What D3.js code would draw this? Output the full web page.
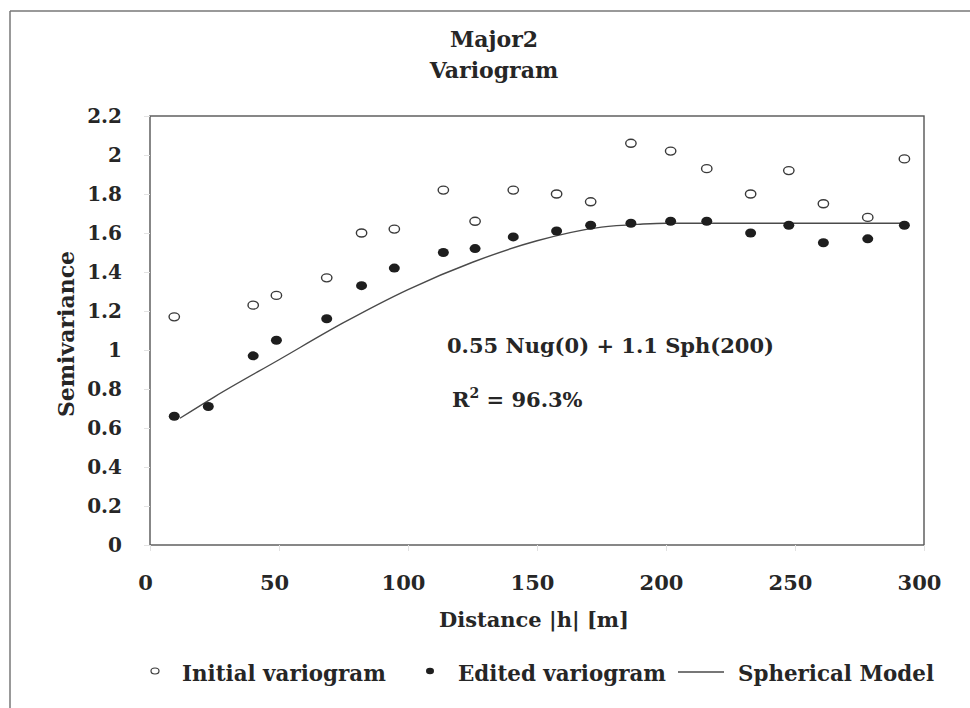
<!DOCTYPE html>
<html>
<head>
<meta charset="utf-8">
<script src="https://d3js.org/d3.v7.min.js"></script>
<style>
	body { margin: 0; background: #fff; }
</style>
</head>
<body>
<div id="chart"></div>
<script>
/*globals d3*/

// lag distance [m] and semivariance
const initialLag = [9.4, 40, 49, 68.5, 82, 94.7, 113.7, 126, 140.8, 157.6, 170.8, 186.4, 201.8, 215.8, 232.8, 247.6, 261, 278.2, 292.4];
const initialGamma = [1.17, 1.23, 1.28, 1.37, 1.60, 1.62, 1.82, 1.66, 1.82, 1.80, 1.76, 2.06, 2.02, 1.93, 1.80, 1.92, 1.75, 1.68, 1.98];
const editedLag = [9.4, 22.6, 40, 49, 68.5, 82, 94.7, 113.7, 126, 140.8, 157.6, 170.8, 186.4, 201.8, 215.8, 232.8, 247.6, 261, 278.2, 292.4];
const editedGamma = [0.66, 0.71, 0.97, 1.05, 1.16, 1.33, 1.42, 1.50, 1.52, 1.58, 1.61, 1.64, 1.65, 1.66, 1.66, 1.60, 1.64, 1.55, 1.57, 1.64];
const modelLag = [11.6, 25, 50, 75, 100, 125, 150, 175, 190, 200, 250, 294];
const modelGamma = [0.65, 0.76, 0.95, 1.14, 1.31, 1.45, 1.56, 1.63, 1.645, 1.65, 1.65, 1.65];
const xTicks = [0, 50, 100, 150, 200, 250, 300];
const yTicks = [0, 0.2, 0.4, 0.6, 0.8, 1, 1.2, 1.4, 1.6, 1.8, 2, 2.2];
const titleLines = ['Major2', 'Variogram'];
const legendNames = ['Initial variogram', 'Edited variogram', 'Spherical Model'];

var variogram = function() {
	'use strict';
	const width = 970;
	const height = 708;
	const lineColor = '#4a4a4a';
	const textColor = '#262626';
	const fontFamily = '"DejaVu Serif", serif';
	let svg;
	let plot = { left: 150, right: 924, top: 116, bottom: 545 };
	let x = d3.scaleLinear().domain([0, 300]).range([plot.left, plot.right]);
	let y = d3.scaleLinear().domain([0, 2.2]).range([plot.bottom, plot.top]);

	function drawSvg() {
		d3.selectAll('#chart svg').remove();
		svg = d3.select('#chart').append('svg')
			.attr('width', width)
			.attr('height', height);
	}

	function addText(parent, str, size) {
		return parent.append('text')
			.text(str)
			.attr('font-family', fontFamily)
			.attr('font-weight', 'bold')
			.attr('font-size', size)
			.attr('fill', textColor);
	}

	function drawLine(x1, y1, x2, y2, color, w) {
		svg.append('line')
			.attr('x1', x1).attr('y1', y1)
			.attr('x2', x2).attr('y2', y2)
			.style('stroke', color)
			.style('stroke-width', w);
	}

	function drawFrame() {
		// outer border (only top and left survive in the scan)
		drawLine(10, 11, width, 11, '#777', 1.5);
		drawLine(10, 11, 10, height, '#777', 1.5);
		// plot area box
		svg.append('rect')
			.attr('x', plot.left).attr('y', plot.top)
			.attr('width', plot.right - plot.left)
			.attr('height', plot.bottom - plot.top)
			.style('fill', 'none')
			.style('stroke', '#555')
			.style('stroke-width', 1.4);
	}

	function styleTicks(g, size) {
		g.attr('font-family', fontFamily).attr('font-size', size).attr('font-weight', 'bold');
		g.select('.domain').remove();
		g.selectAll('line').style('stroke', '#e2e2e2');
		g.selectAll('text').attr('fill', textColor);
	}

	function drawAxes() {
		let yAxis = d3.axisLeft(y).tickValues(yTicks).tickSize(6).tickFormat(d3.format('~g'));
		let gy = svg.append('g').attr('transform', 'translate(' + plot.left + ',0)').call(yAxis);
		styleTicks(gy, 20);
		gy.selectAll('text').attr('x', -28);

		let xAxis = d3.axisBottom(x).tickValues(xTicks).tickSize(6);
		let gx = svg.append('g').attr('transform', 'translate(0,' + plot.bottom + ')').call(xAxis);
		styleTicks(gx, 21);
		gx.selectAll('text').attr('y', 0).attr('dy', 45).attr('dx', -5);

		addText(svg, 'Semivariance', 22)
			.attr('transform', 'translate(74,334) rotate(-90)')
			.attr('text-anchor', 'middle');
		addText(svg, 'Distance |h| [m]', 21)
			.attr('x', (plot.left + plot.right) / 2 - 3).attr('y', 627)
			.attr('text-anchor', 'middle');
	}

	function writeTitle() {
		titleLines.forEach(function(line, i) {
			addText(svg, line, 22)
				.attr('x', 494).attr('y', 47 + i * 31)
				.attr('text-anchor', 'middle');
		});
	}

	function drawSeries() {
		let model = d3.line()
			.x((d, i) => x(modelLag[i]))
			.y(d => y(d))
			.curve(d3.curveMonotoneX);
		svg.append('path')
			.datum(modelGamma)
			.attr('d', model)
			.style('fill', 'none')
			.style('stroke', lineColor)
			.style('stroke-width', 1.4);

		svg.append('g').selectAll('ellipse').data(initialGamma).enter().append('ellipse')
			.attr('cx', (d, i) => x(initialLag[i]))
			.attr('cy', d => y(d))
			.attr('rx', 5.2).attr('ry', 4)
			.style('fill', '#fff')
			.style('stroke', '#3a3a3a')
			.style('stroke-width', 1.4);

		svg.append('g').selectAll('ellipse').data(editedGamma).enter().append('ellipse')
			.attr('cx', (d, i) => x(editedLag[i]))
			.attr('cy', d => y(d))
			.attr('rx', 5.5).attr('ry', 4.5)
			.style('fill', '#1e1e1e');
	}

	function writeModelText() {
		addText(svg, '0.55 Nug(0) + 1.1 Sph(200)', 21)
			.attr('x', 447).attr('y', 353);
		let r2 = addText(svg, null, 21)
			.attr('x', 452).attr('y', 407);
		r2.append('tspan').text('R');
		r2.append('tspan').text('2').attr('dy', -9).attr('font-size', 14);
		r2.append('tspan').text(' = 96.3%').attr('dy', 9);
	}

	function drawLegend() {
		const _base = 681;
		const _xs = [182, 458, 738];
		svg.append('ellipse')
			.attr('cx', 155).attr('cy', _base - 10).attr('rx', 4).attr('ry', 3)
			.style('fill', '#fff').style('stroke', '#3a3a3a').style('stroke-width', 1.2);
		svg.append('ellipse')
			.attr('cx', 430).attr('cy', _base - 10).attr('rx', 4).attr('ry', 3.2)
			.style('fill', '#1e1e1e');
		drawLine(678, _base - 9, 724, _base - 9, lineColor, 1.3);
		legendNames.forEach(function(name, i) {
			addText(svg, name, 21.4).attr('x', _xs[i]).attr('y', _base);
		});
	}

	return {
		render: function() {
			drawSvg();
			drawFrame();
			drawAxes();
			drawSeries();
			writeTitle();
			writeModelText();
			drawLegend();
		}
	};
};

variogram().render();
</script>
</body>
</html>
